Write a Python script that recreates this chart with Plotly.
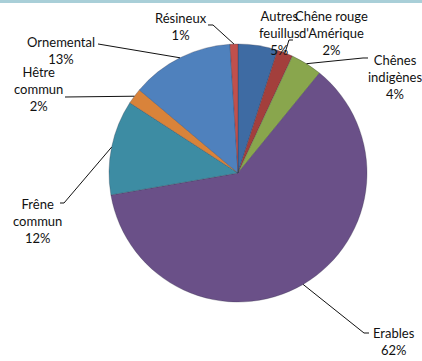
import math
import plotly.graph_objects as go

# Répartition des essences (en %)
essences = ["Autres feuillus", "Chêne rouge d'Amérique", "Chênes indigènes", "Erables",
            "Frêne commun", "Hêtre commun", "Ornemental", "Résineux"]
etiquettes = ["Autres<br>feuillus", "Chêne rouge<br>d'Amérique", "Chênes<br>indigènes", "Erables",
              "Frêne<br>commun", "Hêtre<br>commun", "Ornemental", "Résineux"]
parts = [5, 2, 4, 62, 12, 2, 13, 1]
couleurs = ["#3E6BA3", "#A33F3C", "#89A64D", "#6A5088", "#3D8CA3", "#D9833A", "#4F81BD", "#C0504D"]

W, H = 422, 361
CX, CY, R = 238, 173, 129          # centre et rayon du camembert (px)

# position du texte de chaque étiquette (px) et point de départ de son trait de rappel
pos_texte = [(279, 33), (331, 33), (395, 77), (394, 341),
             (37, 221), (38, 89), (61, 51), (181, 27)]
depart_trait = [None, [(293, 40), (289, 40)], [(368, 58), (363, 58)], [(369, 333), (364, 333)],
                [(60, 203), (64, 203)], [(65, 97)], [(98, 44), (104, 45)], [(208, 25), (213, 25)]]


def px(x, y):
    return x / W, 1 - y / H


fig = go.Figure(go.Pie(
    labels=essences, values=parts, sort=False, direction="clockwise", rotation=0,
    marker=dict(colors=couleurs, line=dict(color="rgba(40,40,60,0.45)", width=0.6)),
    textinfo="none", hoverinfo="label+value", showlegend=False,
    domain=dict(x=[(CX - R) / W, (CX + R) / W], y=[1 - (CY + R) / H, 1 - (CY - R) / H]),
))

total = sum(parts)
cumul = 0
shapes = [dict(type="rect", xref="paper", yref="paper", x0=0, x1=1, y0=1 - 3 / H, y1=1,
               fillcolor="#A9CFD8", line=dict(width=0), layer="above")]
annotations = []
for i, v in enumerate(parts):
    milieu = (cumul + v / 2) / total * 2 * math.pi
    cumul += v
    ax, ay = CX + R * math.sin(milieu), CY - R * math.cos(milieu)
    tx, ty = pos_texte[i]
    x, y = px(tx, ty)
    annotations.append(dict(x=x, y=y, xref="paper", yref="paper", showarrow=False,
                            text=f"{etiquettes[i]}<br>{v}%", align="center",
                            xanchor="center", yanchor="middle",
                            font=dict(family="Lato, sans-serif", size=13, color="#111111")))
    if depart_trait[i]:
        pts = [px(a, b) for a, b in depart_trait[i]] + [px(ax, ay)]
        chemin = "M " + " L ".join(f"{a:.5f},{b:.5f}" for a, b in pts)
        shapes.append(dict(type="path", xref="paper", yref="paper", path=chemin,
                           line=dict(color="#111111", width=1)))

fig.update_layout(width=W, height=H, margin=dict(l=0, r=0, t=0, b=0),
                  paper_bgcolor="white", plot_bgcolor="white",
                  shapes=shapes, annotations=annotations)
fig.write_html("out.html")
